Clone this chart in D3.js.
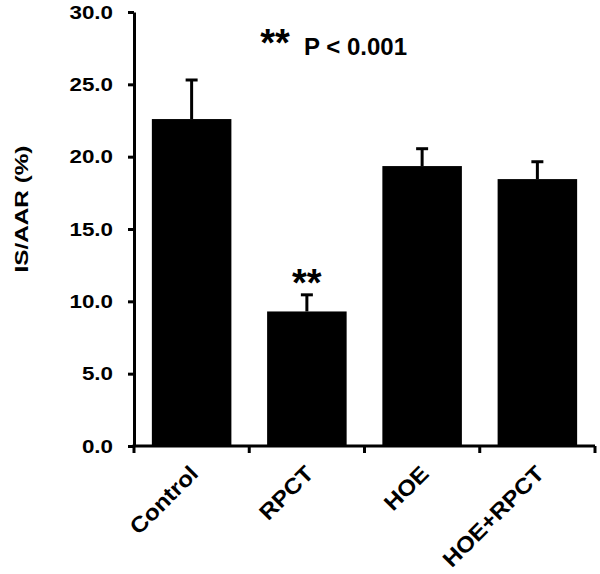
<!DOCTYPE html>
<html>
<head>
<meta charset="utf-8">
<script src="https://cdn.jsdelivr.net/npm/d3@7"></script>
<style>
  body { margin: 0; background: #fff; }
  text { font-family: "Liberation Sans", Arial, sans-serif; font-weight: bold; fill: #000; }
</style>
</head>
<body>
<svg id="chart"></svg>
<script>
// data
const groups = ["Control", "RPCT", "HOE", "HOE+RPCT"];
const means = [22.6, 9.3, 19.35, 18.45];
const errors = [2.7, 1.15, 1.2, 1.2];
const yTicks = [0, 5, 10, 15, 20, 25, 30];
const sigMarks = ["", "**", "", ""];

const width = 600, height = 574;
const margin = { top: 12, right: 5, bottom: 128, left: 134 };

const svg = d3.select("#chart")
    .attr("width", width)
    .attr("height", height);

const x = d3.scaleBand()
    .domain(groups)
    .range([margin.left, width - margin.right])
    .padding(0);

const y = d3.scaleLinear()
    .domain([0, 30])
    .range([height - margin.bottom, margin.top]);

const barW = x.bandwidth() * 0.69;

// bars
svg.selectAll(".bar")
   .data(groups)
   .enter()
   .append("rect")
   .attr("class", "bar")
   .attr("x", d => x(d) + x.bandwidth() / 2 - barW / 2)
   .attr("y", (d, i) => y(means[i]))
   .attr("width", barW)
   .attr("height", (d, i) => y(0) - y(means[i]))
   .attr("fill", "#000");

// error bars (upper only)
const err = svg.append("g")
   .attr("stroke", "#000")
   .attr("stroke-width", 3);

groups.forEach((g, i) => {
    const cx = x(g) + x.bandwidth() / 2;
    const top = y(means[i] + errors[i]);
    err.append("line")
       .attr("x1", cx).attr("x2", cx)
       .attr("y1", y(means[i])).attr("y2", top);
    err.append("line")
       .attr("x1", cx - 6).attr("x2", cx + 6)
       .attr("y1", top).attr("y2", top);
});

// y axis
const yAxis = svg.append("g")
   .attr("transform", `translate(${margin.left},0)`)
   .call(d3.axisLeft(y).tickValues(yTicks).tickFormat(d3.format(".1f")).tickSize(6).tickSizeOuter(0));

yAxis.select(".domain").attr("stroke-width", 3);
yAxis.selectAll(".tick line").attr("stroke-width", 3);
yAxis.selectAll(".tick text")
   .attr("x", -21 / 1.28)
   .attr("dy", "0.35em")
   .attr("transform", "scale(1.28,1)")
   .style("font-size", "17.5px")
   .style("font-family", "'Liberation Sans', Arial, sans-serif")
   .style("font-weight", "bold");

// x axis: line plus ticks at group boundaries
const base = y(0);
svg.append("line")
   .attr("x1", margin.left - 1.5).attr("x2", width - margin.right)
   .attr("y1", base).attr("y2", base)
   .attr("stroke", "#000").attr("stroke-width", 3);

const edges = groups.map(g => x(g)).concat([x.range()[1]]);
svg.selectAll(".xtick")
   .data(edges)
   .enter()
   .append("line")
   .attr("class", "xtick")
   .attr("x1", d => d).attr("x2", d => d)
   .attr("y1", base).attr("y2", base + 7)
   .attr("stroke", "#000").attr("stroke-width", 3);

// x labels, rotated
svg.selectAll(".xlabel")
   .data(groups)
   .enter()
   .append("text")
   .attr("class", "xlabel")
   .attr("transform", d => `translate(${x(d) + x.bandwidth() / 2 + 8},${base + 29}) rotate(-45) scale(1.1,1)`)
   .attr("text-anchor", "end")
   .style("font-size", "22px")
   .text(d => d);

// y axis title
svg.append("text")
   .attr("transform", `translate(28,209) rotate(-90) scale(1.35,1)`)
   .attr("text-anchor", "middle")
   .style("font-size", "18px")
   .text("IS/AAR (%)");

// significance marks
svg.selectAll(".sig")
   .data(groups)
   .enter()
   .append("text")
   .attr("class", "sig")
   .attr("x", d => x(d) + x.bandwidth() / 2)
   .attr("y", (d, i) => y(means[i] + errors[i]) + 1)
   .attr("text-anchor", "middle")
   .style("font-size", "38px")
   .text((d, i) => sigMarks[i]);

// legend note
svg.append("text")
   .attr("x", 275).attr("y", 56)
   .attr("text-anchor", "middle")
   .style("font-size", "38px")
   .text("**");

svg.append("text")
   .attr("x", 304).attr("y", 55)
   .style("font-size", "24px")
   .text("P < 0.001");
</script>
</body>
</html>
